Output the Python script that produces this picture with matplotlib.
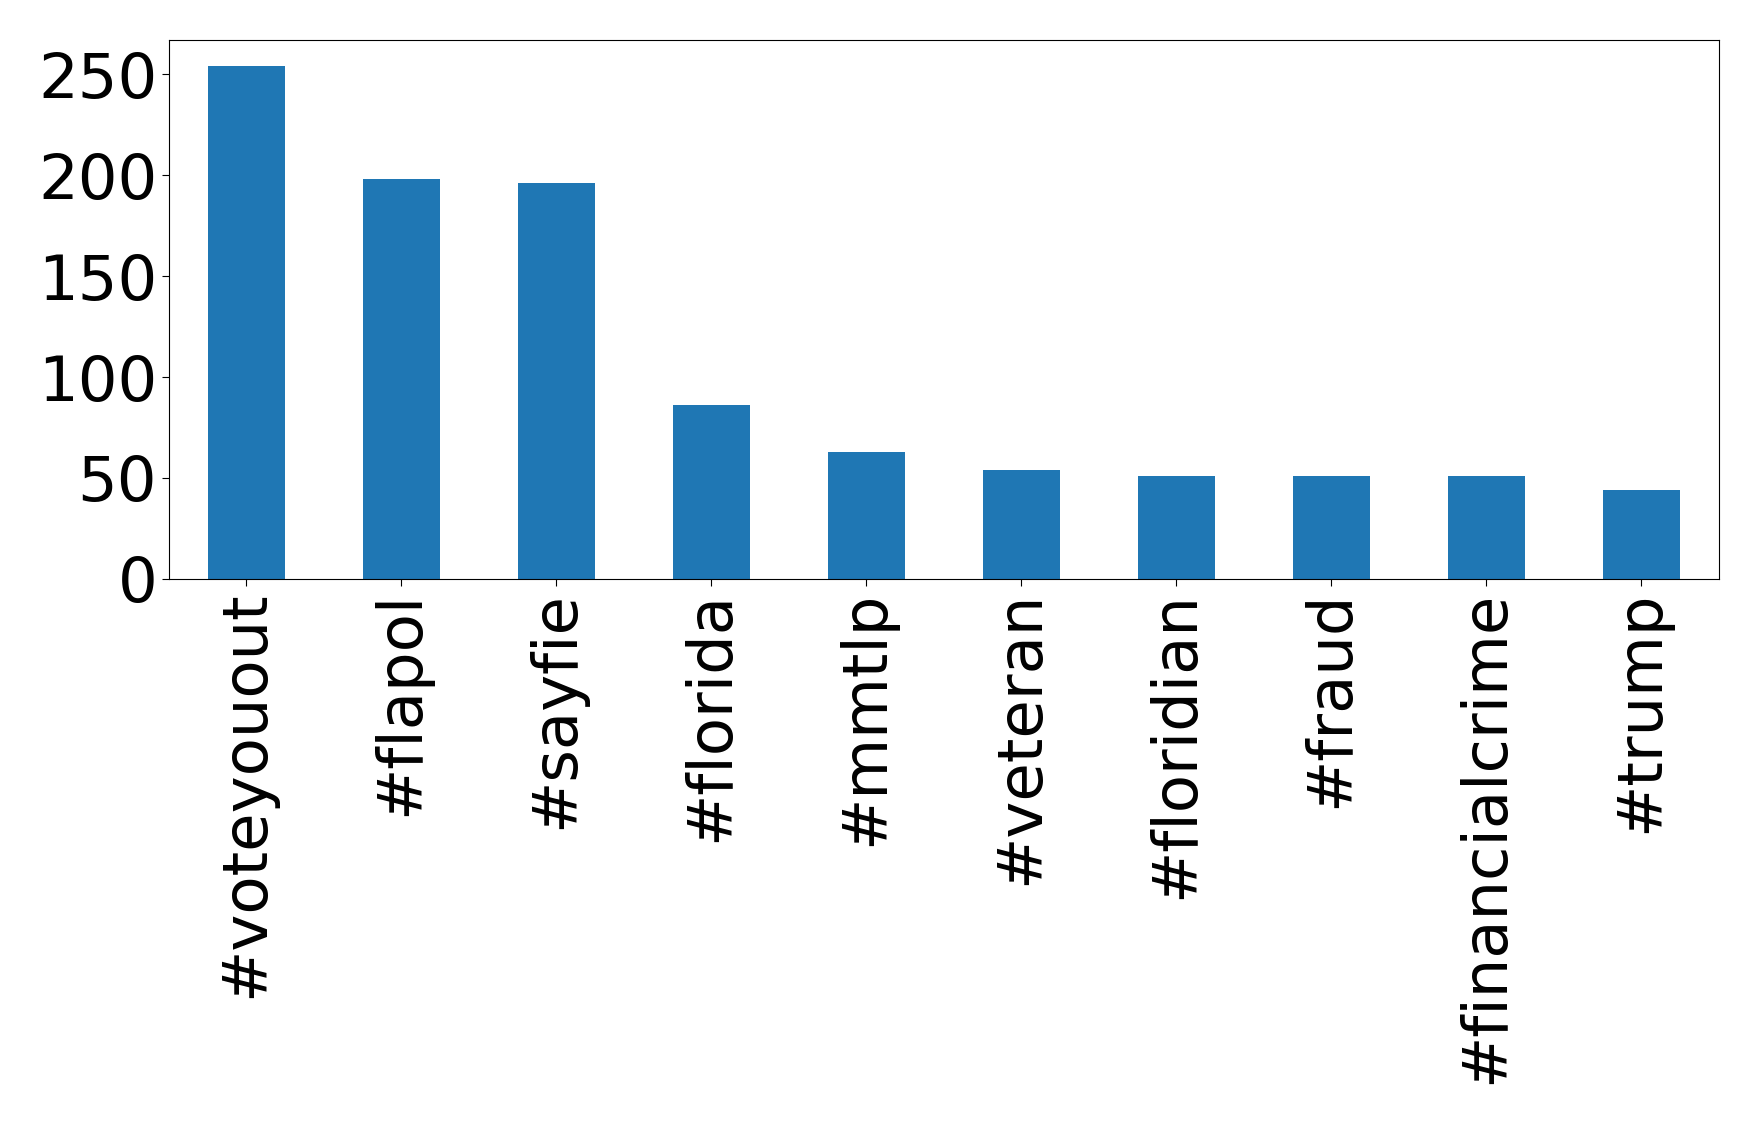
import matplotlib
matplotlib.use("Agg")
import matplotlib.pyplot as plt

hashtags = ["#voteyouout", "#flapol", "#sayfie", "#florida", "#mmtlp",
            "#veteran", "#floridian", "#fraud", "#financialcrime", "#trump"]
counts = [254, 198, 196, 86, 63, 54, 51, 51, 51, 44]

fig = plt.figure(figsize=(17.58, 11.22), dpi=100)
ax = fig.add_axes([0.0961, 0.484, 0.8817, 0.48])
x = list(range(len(hashtags)))
ax.bar(x, counts, width=0.5, color="#1f77b4")
ax.set_xlim(-0.5, len(hashtags) - 0.5)
ax.set_ylim(0, max(counts) * 1.05)
ax.set_xticks(x)
ax.set_xticklabels(hashtags, rotation=90, fontsize=45)
ax.set_yticks([0, 50, 100, 150, 200, 250])
ax.tick_params(axis="y", labelsize=45)
ax.tick_params(length=5)
fig.savefig("out.png", dpi=100)
